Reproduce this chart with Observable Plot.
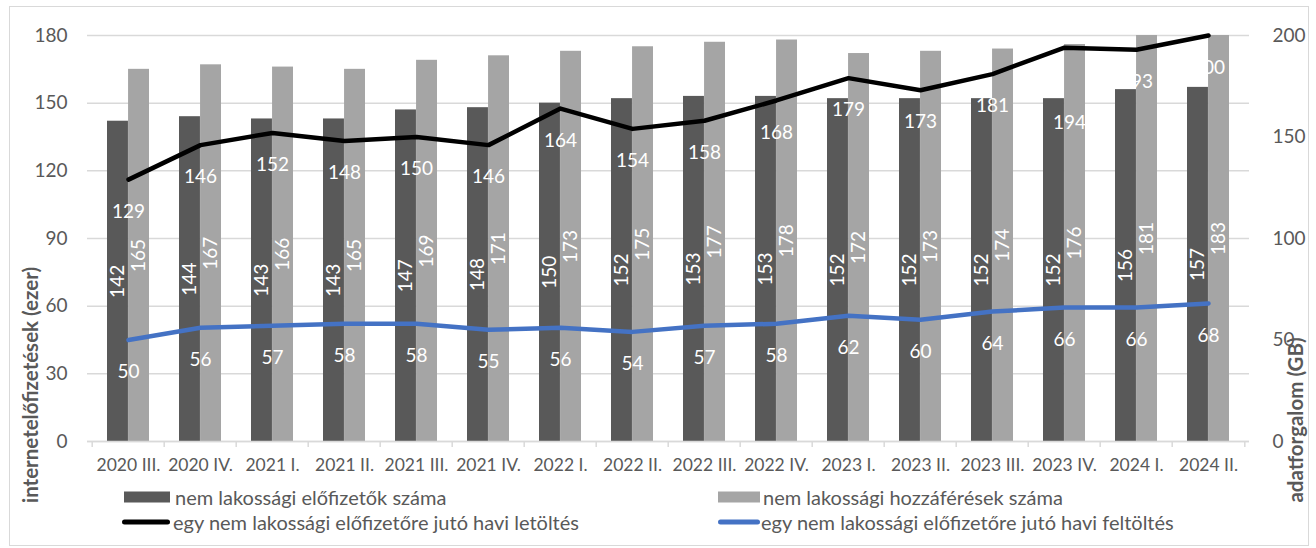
<!DOCTYPE html>
<html><head><meta charset="utf-8">
<script src="https://cdn.jsdelivr.net/npm/d3@7"></script>
<script src="https://cdn.jsdelivr.net/npm/@observablehq/plot@0.6"></script>
<style>
body{margin:0;background:#fff;font-family:Lato, "Open Sans", sans-serif;}
#wrap{position:relative;width:1316px;height:548px;overflow:hidden;}
#chart{position:absolute;left:0;top:0;}
#frame{position:absolute;left:9px;top:6px;width:1300px;height:540px;border:1.5px solid #d9d9d9;box-sizing:border-box;pointer-events:none}
.ttl{position:absolute;transform:translate(-50%,-50%) rotate(-90deg);white-space:nowrap;font-weight:bold;color:#595959;font-size:20.5px;}
.lg{position:absolute;white-space:nowrap;color:#595959;font-size:20px;transform:translateY(-50%);}
.sw{position:absolute;transform:translateY(-50%);}
</style></head><body>
<div id="wrap"><div id="chart"></div><div id="legend"></div><div id="frame"></div></div>
<script>
const periods = ["2020 III.","2020 IV.","2021 I.","2021 II.","2021 III.","2021 IV.","2022 I.","2022 II.","2022 III.","2022 IV.","2023 I.","2023 II.","2023 III.","2023 IV.","2024 I.","2024 II."];
const subscribers = [142,144,143,143,147,148,150,152,153,153,152,152,152,152,156,157];
const accesses    = [165,167,166,165,169,171,173,175,177,178,172,173,174,176,181,183];
const download    = [129,146,152,148,150,146,164,154,158,168,179,173,181,194,193,200];
const upload      = [50,56,57,58,58,55,56,54,57,58,62,60,64,66,66,68];
const leftTicks  = [0,30,60,90,120,150,180];
const rightTicks = [0,50,100,150,200];
const seriesNames = ["nem lakossági előfizetők száma","nem lakossági hozzáférések száma","egy nem lakossági előfizetőre jutó havi letöltés","egy nem lakossági előfizetőre jutó havi feltöltés"];
const seriesColors = ["#595959","#a5a5a5","#000000","#4472c4"];
const leftTitle = "internetelőfizetések (ezer)";
const rightTitle = "adatforgalom (GB)";

const W = 1316, H = 480, ML = 87, MR = 67, MT = 35, MB = 39;
const PI = 0.42, PO = 0.21;
const step = (W - ML - MR) / (periods.length - PI + 2 * PO);
const bw = step * (1 - PI);
const k = 180 / 200; // right axis -> left axis

const subRows = periods.map((p, i) => ({period: p, value: subscribers[i]}));
const accRows = periods.map((p, i) => ({period: p, value: accesses[i]}));
const dlRows = periods.map((p, i) => ({period: p, value: download[i]}));
const ulRows = periods.map((p, i) => ({period: p, value: upload[i]}));

const chart = Plot.plot({
  width: W, height: H,
  marginLeft: ML, marginRight: MR, marginTop: MT, marginBottom: MB,
  style: {fontFamily: "Lato, 'Open Sans', sans-serif", fontSize: "18px", color: "#595959", background: "transparent"},
  x: {type: "band", domain: periods, paddingInner: PI, paddingOuter: PO, align: 0.5},
  y: {domain: [0, 180]},
  marks: [
    Plot.gridY(leftTicks, {stroke: "#d9d9d9", strokeOpacity: 1, strokeWidth: 1.5}),
    Plot.barY(subRows, {x: "period", y: "value", fill: seriesColors[0], insetRight: bw / 2, clip: true}),
    Plot.barY(accRows, {x: "period", y: "value", fill: seriesColors[1], insetLeft: bw / 2, clip: true}),
    Plot.ruleY([0], {stroke: "#d9d9d9", strokeWidth: 1.5}),
    Plot.ruleX(periods, {x: d => d, dx: -step / 2, y1: 0, y2: 0, insetBottom: -6, stroke: "#d9d9d9", strokeWidth: 1.5}),
    Plot.ruleX(periods.slice(-1), {x: d => d, dx: step / 2, y1: 0, y2: 0, insetBottom: -6, stroke: "#d9d9d9", strokeWidth: 1.5}),
    Plot.text(subRows, {x: "period", y: d => d.value / 2, text: d => String(d.value), rotate: -90, dx: -bw / 4, fill: "white", fontSize: 19}),
    Plot.text(accRows, {x: "period", y: d => Math.min(d.value, 180) / 2, text: d => String(d.value), rotate: -90, dx: bw / 4, fill: "white", fontSize: 19}),
    Plot.line(dlRows, {x: "period", y: d => d.value * k, stroke: seriesColors[2], strokeWidth: 4.5, strokeLinejoin: "round", strokeLinecap: "round"}),
    Plot.line(ulRows, {x: "period", y: d => d.value * k, stroke: seriesColors[3], strokeWidth: 4.5, strokeLinejoin: "round", strokeLinecap: "round"}),
    Plot.text(dlRows.filter(d => d.period !== "2023 IV."), {x: "period", y: d => d.value * k, dy: 32, text: d => String(d.value), fill: "white", fontSize: 19}),
    Plot.text(dlRows.filter(d => d.period === "2023 IV."), {x: "period", y: d => d.value * k, dy: 75, dx: 5, text: d => String(d.value), fill: "white", fontSize: 19}),
    Plot.text(ulRows, {x: "period", y: d => d.value * k, dy: 32, text: d => String(d.value), fill: "white", fontSize: 19}),
    Plot.axisY(leftTicks, {anchor: "left", tickSize: 0, tickPadding: 20, label: null, fontSize: 19}),
    Plot.axisY(rightTicks.map(v => v * k), {anchor: "right", tickSize: 0, tickPadding: 23, label: null, tickFormat: d => String(Math.round(d / k)), fontSize: 19}),
    Plot.axisX({tickSize: 0, tickPadding: 17, label: null, fontSize: 17.5})
  ]
});
document.getElementById("chart").appendChild(chart);

const wrap = document.getElementById("wrap");
function addTitle(text, x, y) {
  const d = document.createElement("div");
  d.className = "ttl"; d.textContent = text;
  d.style.left = x + "px"; d.style.top = y + "px";
  wrap.appendChild(d);
}
addTitle(leftTitle, 30, 385);
addTitle(rightTitle, 1295, 420);

const legendItems = [
  {name: seriesNames[0], color: seriesColors[0], type: "bar", x: 124, w: 46, y: 497, tx: 175},
  {name: seriesNames[1], color: seriesColors[1], type: "bar", x: 718, w: 42, y: 497, tx: 763},
  {name: seriesNames[2], color: seriesColors[2], type: "line", x: 122, w: 48, y: 522, tx: 173},
  {name: seriesNames[3], color: seriesColors[3], type: "line", x: 718, w: 42, y: 522, tx: 761}
];
const legend = document.getElementById("legend");
legendItems.forEach(it => {
  const s = document.createElement("div");
  s.className = "sw";
  s.style.left = it.x + "px"; s.style.top = it.y + "px";
  s.style.width = it.w + "px";
  s.style.height = (it.type === "bar" ? 11 : 5) + "px";
  s.style.background = it.color;
  if (it.type === "line") s.style.borderRadius = "3px";
  legend.appendChild(s);
  const t = document.createElement("div");
  t.className = "lg"; t.textContent = it.name;
  t.style.left = it.tx + "px"; t.style.top = it.y + "px";
  legend.appendChild(t);
});
</script>
</body></html>
